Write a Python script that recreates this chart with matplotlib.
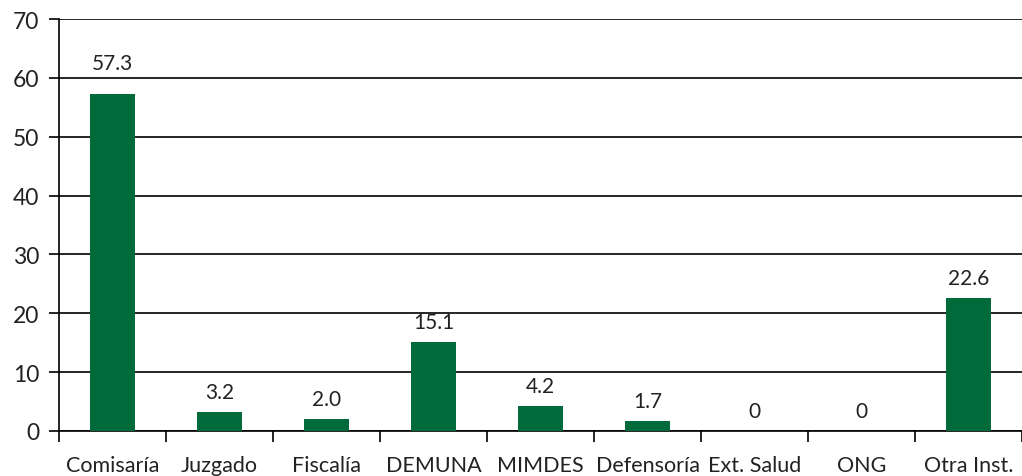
import matplotlib
matplotlib.use("Agg")
import matplotlib.pyplot as plt
import numpy as np

categories = ["Comisaría", "Juzgado", "Fiscalía", "DEMUNA", "MIMDES", "Defensoría", "Ext. Salud", "ONG", "Otra Inst."]
values = [57.3, 3.2, 2.0, 15.1, 4.2, 1.7, 0, 0, 22.6]
value_labels = ["57.3", "3.2", "2.0", "15.1", "4.2", "1.7", "0", "0", "22.6"]
yticks = [0, 10, 20, 30, 40, 50, 60, 70]

plt.rcParams['font.family'] = ['Lato', 'DejaVu Sans']
W, H = 1022, 477
fig = plt.figure(figsize=(W/100, H/100), dpi=100)
ax = fig.add_axes([59/W, 45/H, (W-59)/W, 412/H])

x = np.arange(len(categories))
color = '#006a3b'
ax.bar(x, values, width=0.42, color=color, zorder=3)

ax.set_ylim(0, 70)
ax.set_xlim(-0.5, len(categories) - 0.5 - 9/108)
ax.set_yticks(yticks)
ax.set_yticklabels([str(t) for t in yticks], fontsize=16.5, color='#222222')
ax.yaxis.grid(True, color='black', linewidth=1.2, zorder=1)
ax.tick_params(axis='y', length=7, width=1.2, pad=7, colors='black', labelcolor='#222222')

ax.set_xticks(np.arange(len(categories) + 1) - 0.5)
ax.set_xticklabels([])
ax.tick_params(axis='x', which='major', length=8, width=1.2, direction='out')
ax.set_xticks(x, minor=True)
ax.set_xticklabels(categories, minor=True, fontsize=15.5, color='#222222')
ax.tick_params(axis='x', which='minor', length=0, pad=17)

for s in ['top', 'right']:
    ax.spines[s].set_visible(False)
ax.spines['left'].set_linewidth(1.2)
ax.spines['bottom'].set_linewidth(1.2)
ax.set_axisbelow(True)

# place labels just above bars, nudging them above a gridline if they'd overlap it
gap = 1.7      # data units
text_h = 2.5   # approx text height in data units
for xi, v, lab in zip(x, values, value_labels):
    bottom = v + gap
    for g in yticks:
        if bottom < g < bottom + text_h:
            bottom = g + 0.8
    ax.text(xi, bottom, lab, ha='center', va='bottom', fontsize=15, color='#222222')

fig.savefig("out.png", dpi=100)
